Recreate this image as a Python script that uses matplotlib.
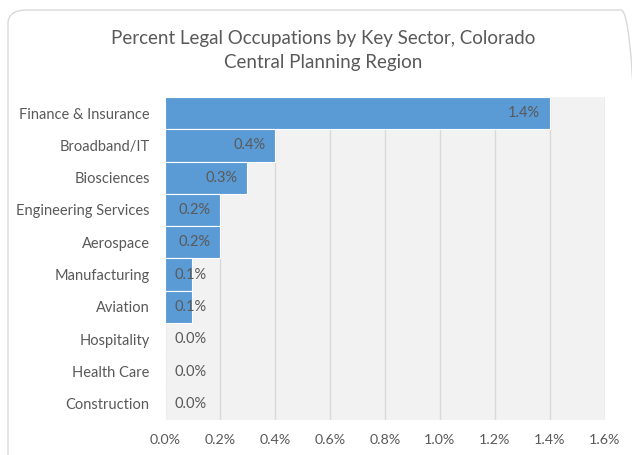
import matplotlib.pyplot as plt
from matplotlib.patches import FancyBboxPatch

# Data
sectors = ["Finance & Insurance", "Broadband/IT", "Biosciences", "Engineering Services",
           "Aerospace", "Manufacturing", "Aviation", "Hospitality", "Health Care", "Construction"]
pct = [1.4, 0.4, 0.3, 0.2, 0.2, 0.1, 0.1, 0.0, 0.0, 0.0]
xticks = [0.0, 0.2, 0.4, 0.6, 0.8, 1.0, 1.2, 1.4, 1.6]

txt = "#595959"
plt.rcParams['font.family'] = ['Lato', 'DejaVu Sans']

fig = plt.figure(figsize=(6.32, 4.55), dpi=100)
ax = fig.add_axes([0.261, 0.077, 0.696, 0.710])

# rounded chart border
border = FancyBboxPatch((8 / 632, -0.1), 1.0, 1.0 - 10 / 455 + 0.1,
                        boxstyle="round,pad=0,rounding_size=0.03",
                        transform=fig.transFigure, fill=False,
                        edgecolor="#d9d9d9", linewidth=1.0)
fig.patches.append(border)

ax.set_facecolor("#f2f2f2")
y = range(len(sectors))
ax.barh(y, pct, height=1.0, color="#5b9bd5", edgecolor="white", linewidth=0.8, zorder=3)
ax.set_ylim(len(sectors) - 0.5, -0.5)
ax.set_xlim(0, 1.6)
ax.set_xticks(xticks)
ax.set_xticklabels([f"{v:.1f}%" for v in xticks], color=txt, fontsize=10.3)
ax.set_yticks(list(y))
ax.set_yticklabels(sectors, color=txt, fontsize=10.5)
ax.tick_params(axis="y", length=0, pad=11)
ax.tick_params(axis="x", length=0, pad=10)
ax.grid(axis="x", color="#d9d9d9", linewidth=1.0, zorder=0)
for s in ax.spines.values():
    s.set_visible(False)

for i, v in enumerate(pct):
    lab = f"{v:.1f}%"
    if v > 0.15:
        ax.text(v - 0.035, i, lab, ha="right", va="center", color=txt, fontsize=10.5, zorder=4)
    else:
        ax.text(0.035, i, lab, ha="left", va="center", color=txt, fontsize=10.5, zorder=4)

fig.text(0.511, 0.915, "Percent Legal Occupations by Key Sector, Colorado",
         ha="center", va="center", color=txt, fontsize=13.5)
fig.text(0.511, 0.862, "Central Planning Region",
         ha="center", va="center", color=txt, fontsize=13.5)

fig.savefig("out.png", dpi=100)
